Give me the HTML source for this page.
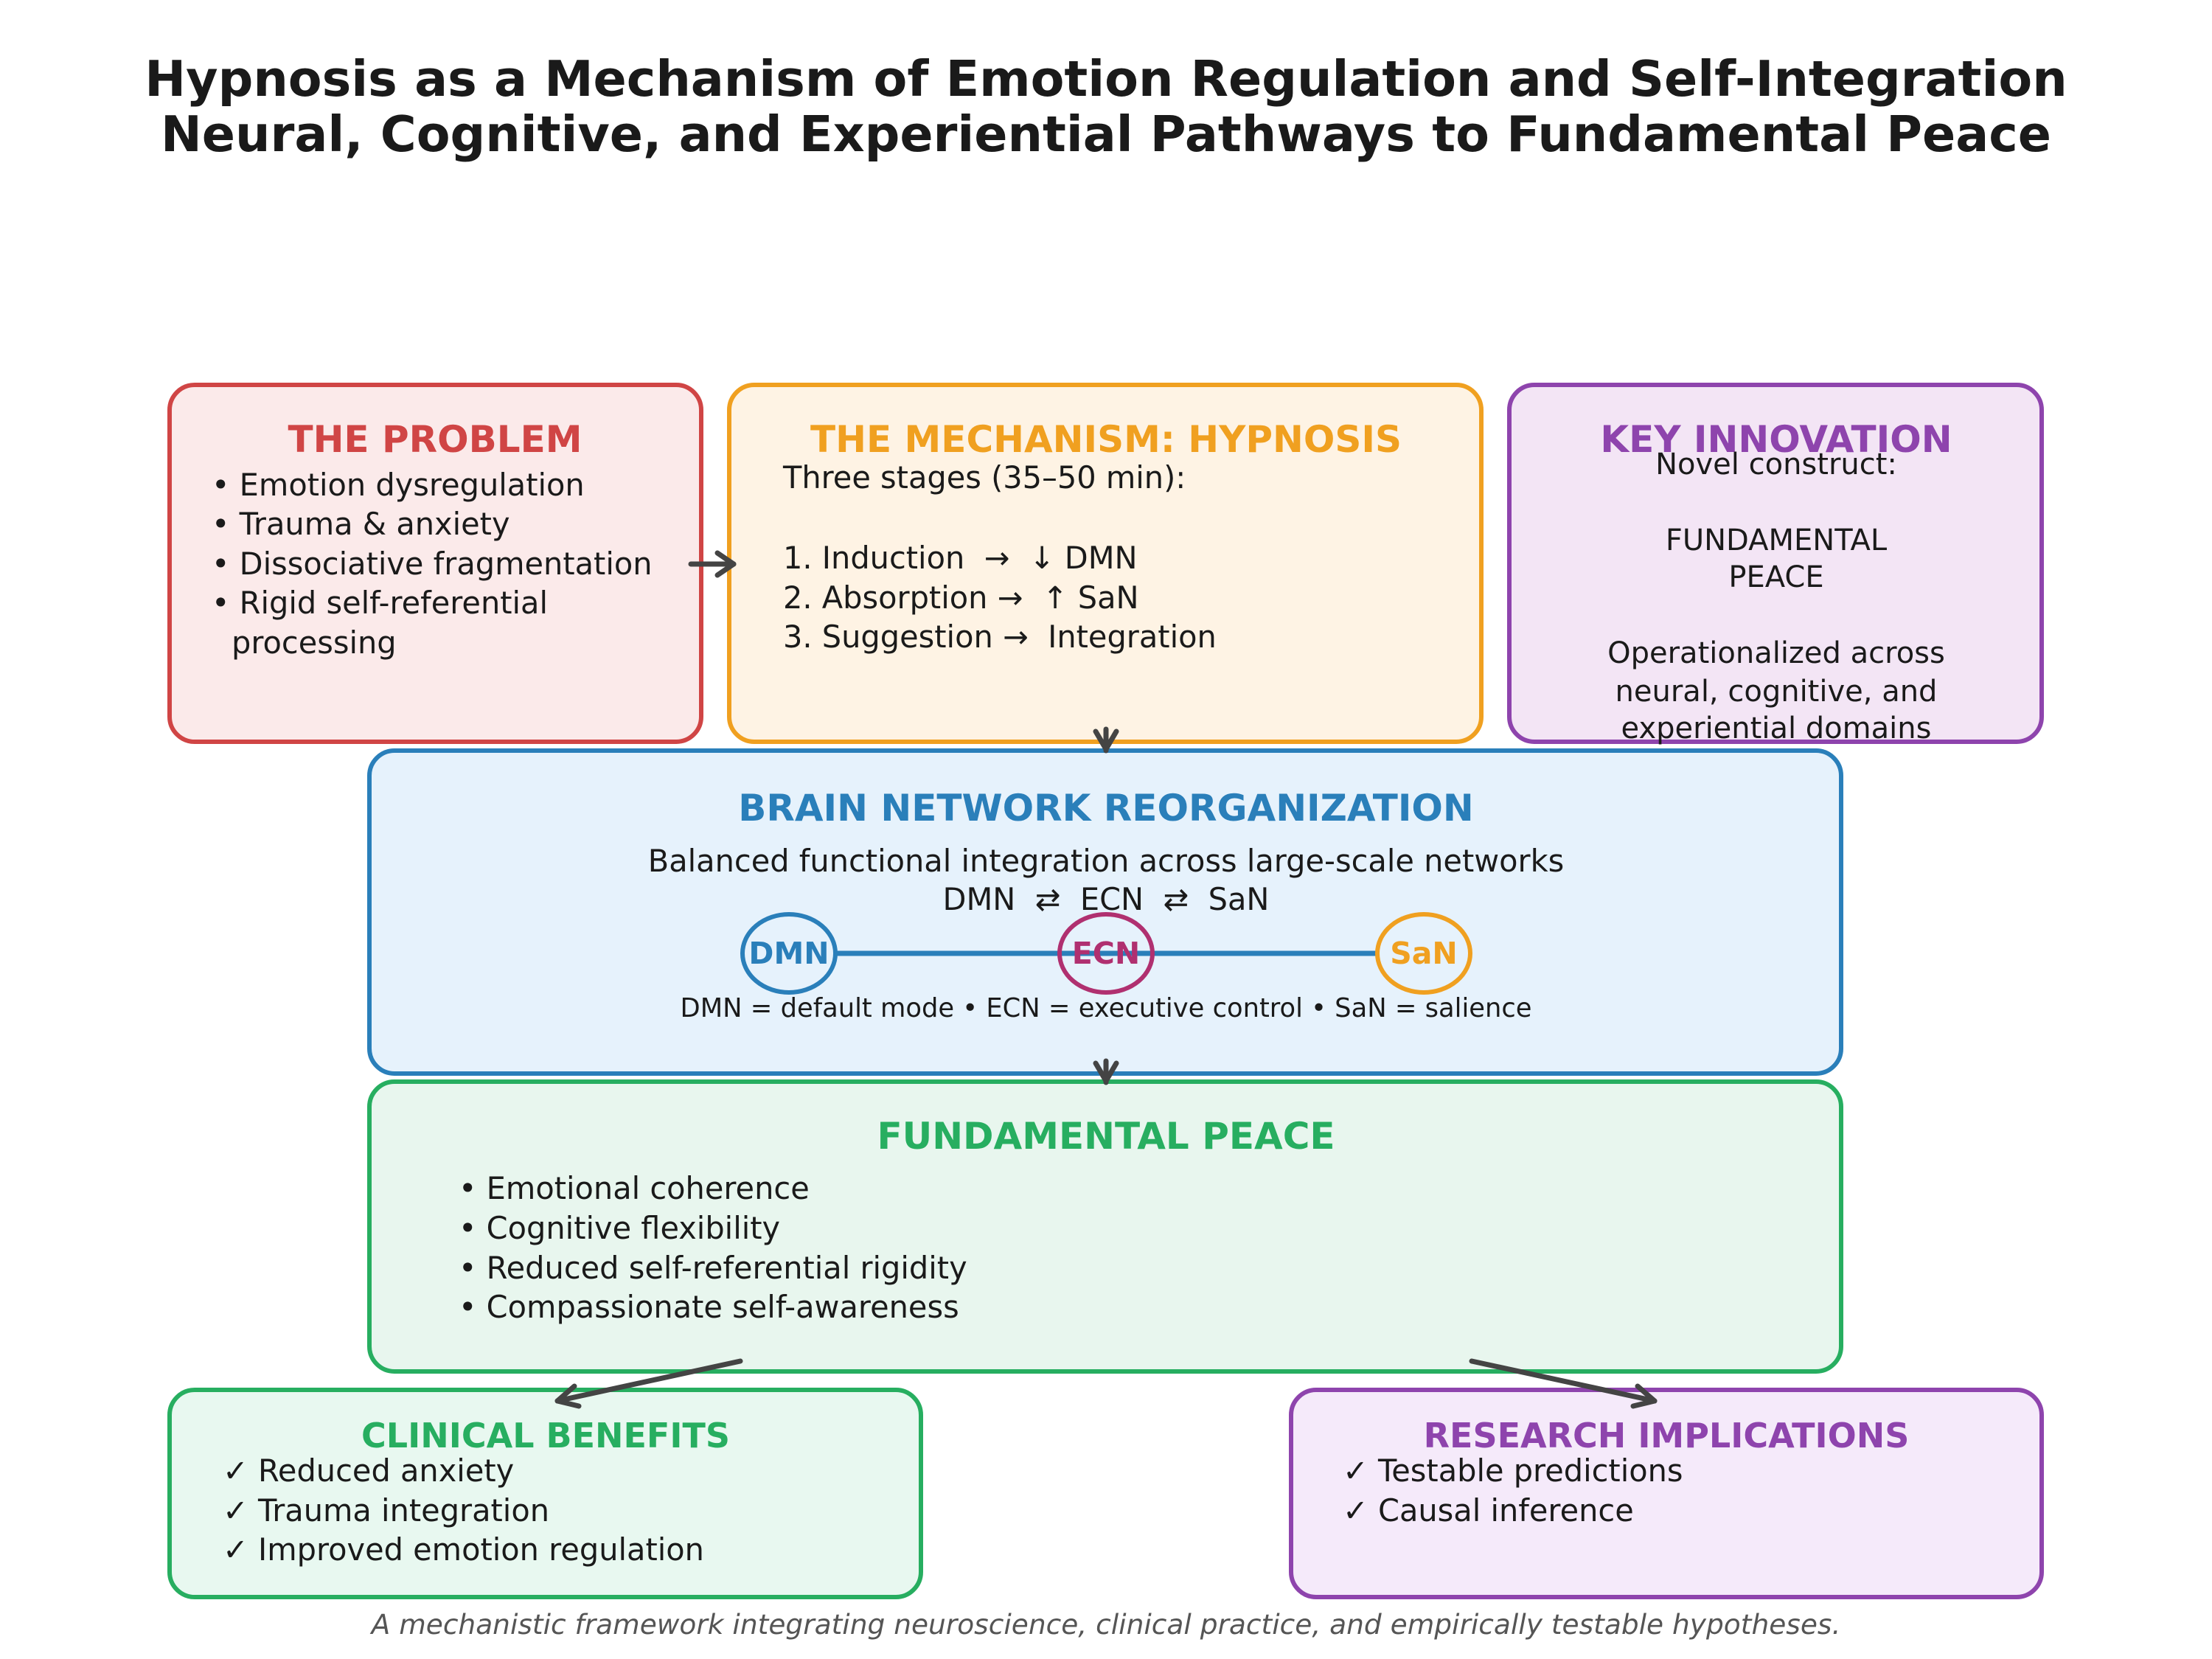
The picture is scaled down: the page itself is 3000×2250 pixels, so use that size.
<!DOCTYPE html>
<html><head><meta charset="utf-8"><style>
html,body{margin:0;padding:0;background:#fff;}
svg{display:block;}
text{font-family:"DejaVu Sans","Liberation Sans",sans-serif;white-space:pre;}
.h{font-weight:bold;font-size:50px;text-anchor:middle;}
.h2{font-weight:bold;font-size:46px;text-anchor:middle;}
.b{font-size:41.5px;fill:#1a1a1a;}
.k{font-size:40px;fill:#1a1a1a;text-anchor:middle;}
</style></head><body>
<svg width="3000" height="2250" viewBox="0 0 3000 2250" xmlns="http://www.w3.org/2000/svg" xml:space="preserve">
<text x="1500" y="130" text-anchor="middle" font-weight="bold" font-size="66.7" fill="#1a1a1a">Hypnosis as a Mechanism of Emotion Regulation and Self-Integration</text>
<text x="1500" y="205" text-anchor="middle" font-weight="bold" font-size="66.7" fill="#1a1a1a">Neural, Cognitive, and Experiential Pathways to Fundamental Peace</text>

<rect x="230" y="522" width="721" height="484" rx="34" fill="#fbeaea" stroke="#d04545" stroke-width="6"/>
<rect x="989" y="522" width="1020" height="484" rx="34" fill="#fef3e4" stroke="#f0a020" stroke-width="6"/>
<rect x="2047" y="522" width="722" height="484" rx="34" fill="#f3e5f5" stroke="#8e44ad" stroke-width="6"/>
<rect x="501" y="1018" width="1996" height="438" rx="34" fill="#e6f2fc" stroke="#2a7fba" stroke-width="6"/>
<rect x="501" y="1467" width="1996" height="393" rx="34" fill="#e8f6ee" stroke="#27ae60" stroke-width="6"/>
<rect x="230" y="1885" width="1019" height="281" rx="34" fill="#e8f8f0" stroke="#27ae60" stroke-width="6"/>
<rect x="1751" y="1885" width="1018" height="281" rx="34" fill="#f5eafa" stroke="#8e44ad" stroke-width="6"/>

<text class="h" x="590" y="613" fill="#d04545">THE PROBLEM</text>
<text class="b" x="287" y="672">• Emotion dysregulation</text>
<text class="b" x="287" y="725">• Trauma &amp; anxiety</text>
<text class="b" x="287" y="779">• Dissociative fragmentation</text>
<text class="b" x="287" y="832">• Rigid self-referential</text>
<text class="b" x="314" y="886">processing</text>

<text class="h" x="1500" y="613" fill="#f0a020">THE MECHANISM: HYPNOSIS</text>
<text class="b" x="1062" y="662">Three stages (35–50 min):</text>
<text class="b" x="1062" y="771">1. Induction  →  ↓ DMN</text>
<text class="b" x="1062" y="825">2. Absorption →  ↑ SaN</text>
<text class="b" x="1062" y="878">3. Suggestion →  Integration</text>

<text class="h" x="2409" y="613" fill="#8e44ad">KEY INNOVATION</text>
<text class="k" x="2409" y="643">Novel construct:</text>
<text class="k" x="2409" y="746">FUNDAMENTAL</text>
<text class="k" x="2409" y="796">PEACE</text>
<text class="k" x="2409" y="899">Operationalized across</text>
<text class="k" x="2409" y="951">neural, cognitive, and</text>
<text class="k" x="2409" y="1001">experiential domains</text>

<text class="h" x="1500" y="1113" fill="#2a7fba">BRAIN NETWORK REORGANIZATION</text>
<text class="b" x="1500" y="1182" text-anchor="middle">Balanced functional integration across large-scale networks</text>
<text class="b" x="1500" y="1234" text-anchor="middle">DMN  ⇄  ECN  ⇄  SaN</text>
<line x1="1133" y1="1293" x2="1868" y2="1293" stroke="#2a7fba" stroke-width="7"/>
<ellipse cx="1070" cy="1293" rx="63" ry="53" fill="#e6f2fc" stroke="#2a7fba" stroke-width="6"/>
<ellipse cx="1500" cy="1293" rx="63" ry="53" fill="none" stroke="#b03070" stroke-width="6"/>
<ellipse cx="1931" cy="1293" rx="63" ry="53" fill="#e6f2fc" stroke="#f0a020" stroke-width="6"/>
<text x="1070" y="1307" text-anchor="middle" font-weight="bold" font-size="41" fill="#2a7fba">DMN</text>
<text x="1500" y="1307" text-anchor="middle" font-weight="bold" font-size="41" fill="#b03070">ECN</text>
<text x="1931" y="1307" text-anchor="middle" font-weight="bold" font-size="41" fill="#f0a020">SaN</text>
<text x="1500" y="1379" text-anchor="middle" font-size="35.3" fill="#1a1a1a">DMN = default mode • ECN = executive control • SaN = salience</text>

<text class="h" x="1500" y="1558" fill="#27ae60">FUNDAMENTAL PEACE</text>
<text class="b" x="622" y="1626">• Emotional coherence</text>
<text class="b" x="622" y="1680">• Cognitive flexibility</text>
<text class="b" x="622" y="1734">• Reduced self-referential rigidity</text>
<text class="b" x="622" y="1787">• Compassionate self-awareness</text>

<text class="h2" x="740" y="1963" fill="#27ae60">CLINICAL BENEFITS</text>
<text class="b" x="302" y="2009">✓ Reduced anxiety</text>
<text class="b" x="302" y="2063">✓ Trauma integration</text>
<text class="b" x="302" y="2116">✓ Improved emotion regulation</text>
<text class="h2" x="2260" y="1963" fill="#8e44ad">RESEARCH IMPLICATIONS</text>
<text class="b" x="1821" y="2009">✓ Testable predictions</text>
<text class="b" x="1821" y="2063">✓ Causal inference</text>

<g stroke="#444" stroke-width="7" fill="none" stroke-linecap="round" stroke-linejoin="round">
<line x1="937" y1="765" x2="995" y2="765"/><polyline points="973,750 995,765 973,780"/>
<line x1="1500" y1="989" x2="1500" y2="1018"/><polyline points="1486,992 1500,1016 1514,992"/>
<line x1="1500" y1="1439" x2="1500" y2="1468"/><polyline points="1486,1442 1500,1466 1514,1442"/>
<line x1="1004" y1="1846" x2="756" y2="1900"/><polyline points="779,1880 756,1900 785,1907"/>
<line x1="1996" y1="1846" x2="2244" y2="1900"/><polyline points="2215,1907 2244,1900 2221,1880"/>
</g>

<text x="1500" y="2216" text-anchor="middle" font-style="italic" font-size="37.5" fill="#555">A mechanistic framework integrating neuroscience, clinical practice, and empirically testable hypotheses.</text>
</svg>
</body></html>
